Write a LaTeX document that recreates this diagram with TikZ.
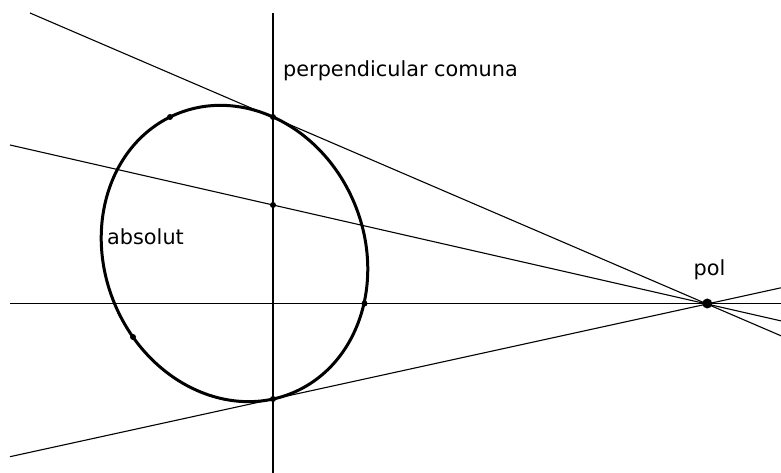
\documentclass[tikz,border=0pt]{standalone}
\usepackage{fontspec}
\setmainfont{DejaVu Sans}
\begin{document}
\begin{tikzpicture}[x=1pt,y=1pt,
  thinline/.style={line width=1.1pt, black},
  axisline/.style={line width=2.1pt, black},
  conic/.style={line width=3pt, black},
  dot/.style={circle, fill=black, inner sep=0pt, minimum size=6pt},
  bigdot/.style={circle, fill=black, inner sep=0pt, minimum size=10pt},
  lbl/.style={anchor=base west, inner sep=0pt, font=\fontsize{20.8}{24}\selectfont}]
\useasboundingbox (0,0) rectangle (781,473);
% end points
\coordinate (l1s) at (30,460);
\coordinate (l1e) at (781,137.2);
\coordinate (l2s) at (10,328);
\coordinate (l2e) at (781,152.1);
\coordinate (l3s) at (10,16.3);
\coordinate (l3e) at (781,185.2);
\coordinate (hs) at (10,169.5);
\coordinate (he) at (781,169.5);
\coordinate (vs) at (273,460);
\coordinate (ve) at (273,0);
\coordinate (ctr) at (234.5,219.5);
% lines
\draw[thinline] (l1s) -- (l1e);
\draw[thinline] (l2s) -- (l2e);
\draw[thinline] (l3s) -- (l3e);
\draw[thinline] (hs) -- (he);
\draw[axisline] (vs) -- (ve);
% absolute (conic)
\draw[conic, rotate around={-67.6:(ctr)}] (ctr) ellipse [x radius=151, y radius=130];
% points
\node[dot] (pA) at (170,356) {};
\node[dot] (pT) at (273,356) {};
\node[dot] (pM) at (273,268) {};
\node[dot] (pR) at (364.5,169.5) {};
\node[dot] (pL) at (133,136) {};
\node[dot] (pB) at (273,74) {};
\node[bigdot] (pol) at (707.3,169.5) {};
% labels
\node[lbl] (tperp) at (283,396) {perpendicular comuna};
\node[lbl] (tabs) at (107,228) {absolut};
\node[lbl] (tpol) at (693.5,197) {pol};
\end{tikzpicture}
\end{document}
